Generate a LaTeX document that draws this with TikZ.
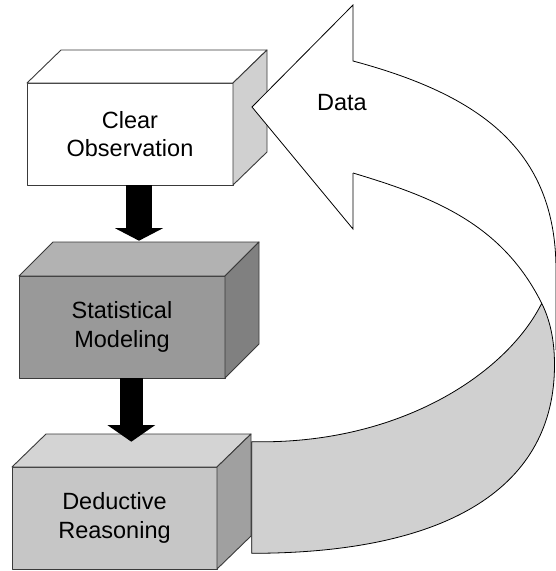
\documentclass[tikz,border=0pt]{standalone}
\usepackage{fontspec}
\setmainfont{Liberation Sans}
\usetikzlibrary{calc,arrows.meta}
\definecolor{edgegray}{HTML}{3A3A3A}
\definecolor{sideA}{HTML}{D0D0D0}
\definecolor{frontB}{HTML}{999999}
\definecolor{topB}{HTML}{B2B2B2}
\definecolor{sideB}{HTML}{808080}
\definecolor{frontC}{HTML}{C6C6C6}
\definecolor{topC}{HTML}{D4D4D4}
\definecolor{sideC}{HTML}{A0A0A0}
\definecolor{bandgray}{HTML}{D0D0D0}
\newcommand\cubefaces[5]{%
  \filldraw[face, fill=#4] (#1.north west) -- ($(#1.north west)+(#2,#3)$) -- ($(#1.north east)+(#2,#3)$) -- (#1.north east) -- cycle;
  \filldraw[face, fill=#5] (#1.north east) -- ($(#1.north east)+(#2,#3)$) -- ($(#1.south east)+(#2,#3)$) -- (#1.south east) -- cycle;
}
\begin{document}
\begin{tikzpicture}[x=1pt,y=-1pt,
  cube/.style={draw=edgegray, line width=0.9pt, inner sep=0pt, outer sep=0pt,
    minimum width=206pt, minimum height=102pt, align=center,
    font=\fontsize{23.5}{28.4}\selectfont, line join=round},
  face/.style={draw=edgegray, line width=0.9pt, line join=round},
  rib/.style={draw=black, line width=0.8pt, line join=miter},
  lbl/.style={font=\fontsize{23.5}{28.4}\selectfont, inner sep=0pt}
]
\useasboundingbox (0,0) rectangle (555,571);
\fill[white] (0,0) rectangle (555,571);

% boxes
\node[cube, fill=white] (b1) at (130,134) {Clear\\Observation};
\cubefaces{b1}{34}{-33}{white}{sideA}
\node[cube, fill=frontB] (b2) at (122,327) {Statistical\\Modeling};
\cubefaces{b2}{34}{-34}{topB}{sideB}
\node[cube, fill=frontC, minimum width=205pt] (b3) at (114.5,518) {Deductive\\Reasoning};
\cubefaces{b3}{34}{-33}{topC}{sideC}

% arrows between boxes
\coordinate (t1) at (139,240.7);
\coordinate (t2) at (131.3,441.7);
\draw[line width=26pt, -{Triangle[width=48pt,length=12.5pt,line width=0pt]}] (t1 |- b1.south) -- (t1);
\draw[line width=23pt, -{Triangle[width=48pt,length=16.7pt,line width=0pt]}] (t2 |- b2.south) -- (t2);

% big curved arrow (white ribbon)
\fill[white] (353,61) -- (353,5) -- (252,107) -- (353,229) -- (353,173)
  .. controls (433,197) and (501.7,223.3) .. (541.7,303.3)
  .. controls (551.7,323.3) and (554.5,345) .. (554.5,365)
  -- (557,365) -- (556,270)
  .. controls (556,150) and (480,95) .. (353,61) -- cycle;
\draw[rib] (353,173) -- (353,229) -- (252,107) -- (353,5) -- (353,61)
  .. controls (480,95) and (556,150) .. (556,270) -- (556,350);
\draw[rib] (353,173) .. controls (433,197) and (501.7,223.3) .. (541.7,303.3);

% grey underside band
\filldraw[rib, fill=bandgray] (251.7,441.7)
  .. controls (400,445) and (506.7,373.3) .. (541.7,303.3)
  .. controls (551.7,323.3) and (554.5,345) .. (554.5,365)
  .. controls (554.5,485) and (451.7,553.3) .. (251.7,553.3) -- cycle;

\node[lbl, anchor=base] (data) at (342,110) {Data};
\end{tikzpicture}
\end{document}
